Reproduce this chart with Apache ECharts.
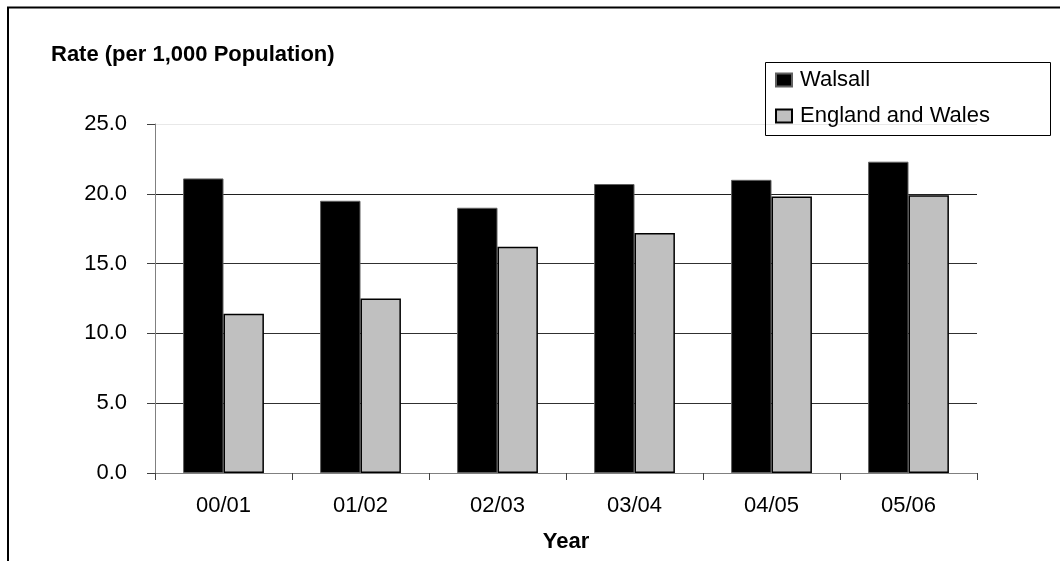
<!DOCTYPE html>
<html>
<head>
<meta charset="utf-8">
<script src="https://cdn.jsdelivr.net/npm/echarts@6/dist/echarts.min.js"></script>
<style>
  html, body { margin: 0; padding: 0; background: #fff; }
  #chart { width: 1060px; height: 561px; }
</style>
</head>
<body>
<div id="chart"></div>
<script>
const categories = ['00/01', '01/02', '02/03', '03/04', '04/05', '05/06'];
const walsall = [21.1, 19.5, 19.0, 20.7, 21.0, 22.3];
const englandWales = [11.4, 12.5, 16.2, 17.2, 19.8, 19.9];
const seriesNames = ['Walsall', 'England and Wales'];
const yAxisTitle = 'Rate (per 1,000 Population)';
const xAxisTitle = 'Year';

const FONT = '"Liberation Sans", Arial, sans-serif';
const chart = echarts.init(document.getElementById('chart'), null, { renderer: 'canvas' });

chart.setOption({
  backgroundColor: '#fff',
  animation: false,
  textStyle: { fontFamily: FONT },
  title: {
    text: yAxisTitle,
    left: 46,
    top: 39,
    textStyle: { fontFamily: FONT, fontSize: 22, fontWeight: 'bold', color: '#000' }
  },
  legend: {
    orient: 'vertical',
    left: 775,
    top: 69,
    padding: 0,
    itemWidth: 16,
    itemHeight: 13,
    itemGap: 14,
    icon: 'rect',
    data: seriesNames,
    textStyle: { fontFamily: FONT, fontSize: 22, color: '#000', padding: [0, 0, 0, 3] }
  },
  grid: { left: 155, right: 83, top: 124, bottom: 88, containLabel: false },
  xAxis: {
    type: 'category',
    data: categories,
    name: xAxisTitle,
    nameLocation: 'middle',
    nameGap: 58,
    nameTextStyle: { fontFamily: FONT, fontSize: 22, fontWeight: 'bold', color: '#000' },
    axisLine: { lineStyle: { color: '#808080', width: 1 } },
    axisTick: { show: true, length: 7, alignWithLabel: false, lineStyle: { color: '#404040' } },
    axisLabel: { fontFamily: FONT, fontSize: 22, color: '#000', margin: 22 },
    splitLine: { show: false }
  },
  yAxis: {
    type: 'value',
    min: 0,
    max: 25,
    interval: 5,
    axisLine: { show: true, lineStyle: { color: '#808080', width: 1 } },
    axisTick: { show: true, length: 8, lineStyle: { color: '#404040' } },
    axisLabel: {
      fontFamily: FONT, fontSize: 22, color: '#000', margin: 28,
      formatter: v => v.toFixed(1)
    },
    splitLine: {
      show: true,
      lineStyle: { color: ['#808080', '#303030', '#303030', '#303030', '#202020', '#e8e8e8'], width: 1 }
    }
  },
  series: [
    {
      name: seriesNames[0],
      type: 'bar',
      data: walsall,
      barGap: '0%',
      barCategoryGap: '41%',
      itemStyle: { color: '#000000', borderColor: '#606060', borderWidth: 1 }
    },
    {
      name: seriesNames[1],
      type: 'bar',
      data: englandWales,
      barGap: '0%',
      barCategoryGap: '41%',
      itemStyle: { color: '#c0c0c0', borderColor: '#000000', borderWidth: 1.5 }
    }
  ],
  graphic: [
    {
      type: 'polyline',
      silent: true,
      shape: { points: [[8, 561], [8, 7.5], [1060, 7.5]] },
      style: { stroke: '#000', lineWidth: 2, fill: null }
    },
    {
      type: 'rect',
      silent: true,
      shape: { x: 765.5, y: 62.5, width: 285, height: 73 },
      style: { stroke: '#000', lineWidth: 1, fill: null },
      z: 10
    }
  ]
});
</script>
</body>
</html>
